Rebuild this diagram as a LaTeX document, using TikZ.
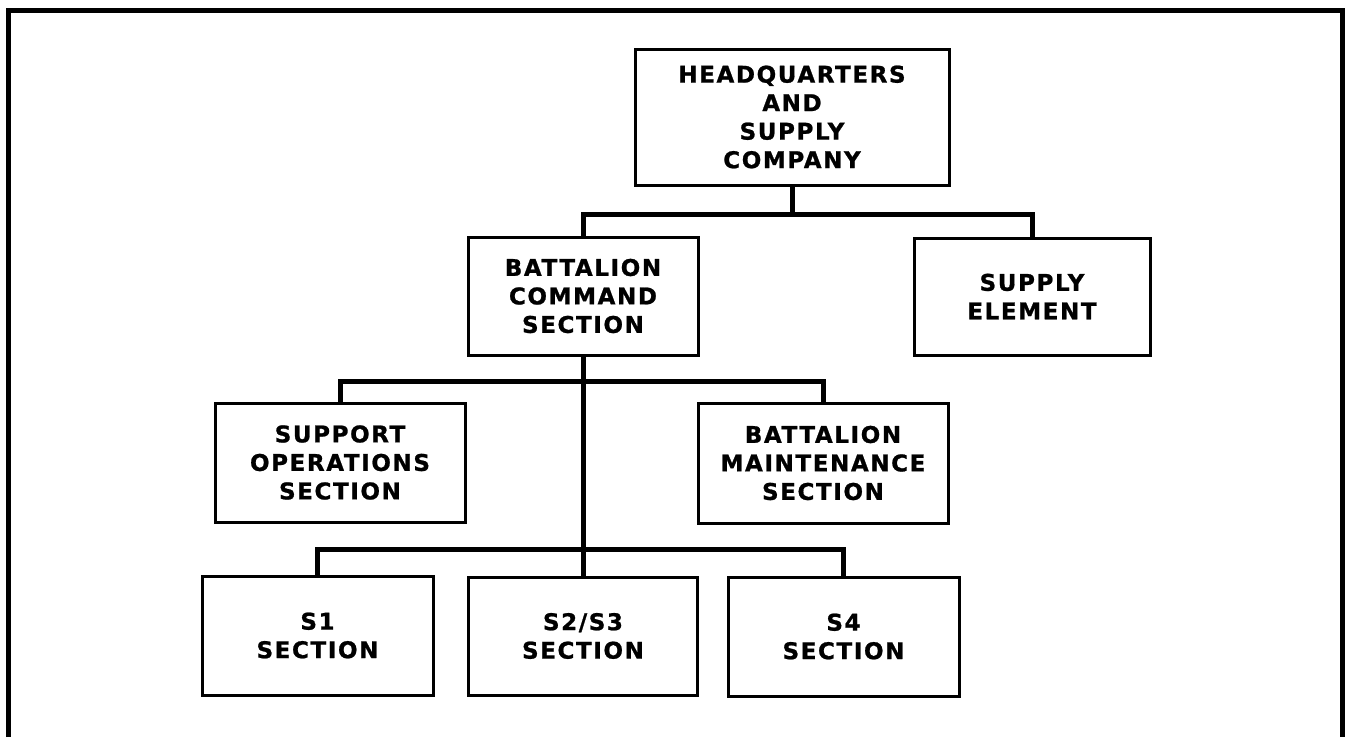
\documentclass[tikz,border=0pt]{standalone}
\usepackage{fontspec}
\newfontfamily\boxfont{DejaVu Sans}[LetterSpace=7, BoldFeatures={FakeBold=1}]
\begin{document}
\begin{tikzpicture}[x=1pt,y=-1pt,
  unit/.style={draw=black, line width=3pt, rectangle, inner sep=0pt, align=center,
    font=\boxfont\bfseries\fontsize{23}{28.5}\selectfont},
  conn/.style={draw=black, line width=5pt, line join=miter},
  frameline/.style={draw=black, line width=5pt, line join=miter}]
\useasboundingbox (0,0) rectangle (1345,737);
\fill[white] (0,0) rectangle (1345,737);
% frame
\draw[frameline] (8,737) -- (8,10.5) -- (1342.5,10.5) -- (1342.5,737);
% boxes
\node[unit, minimum width=314pt, minimum height=136pt] (hq) at (792,117) {HEADQUARTERS\\AND\\SUPPLY\\COMPANY};
\node[unit, minimum width=230pt, minimum height=118pt] (bcs) at (583,296) {BATTALION\\COMMAND\\SECTION};
\node[unit, minimum width=236pt, minimum height=117pt] (se) at (1032,296.5) {SUPPLY\\ELEMENT};
\node[unit, minimum width=250pt, minimum height=119pt] (sos) at (340,462.5) {SUPPORT\\OPERATIONS\\SECTION};
\node[unit, minimum width=250pt, minimum height=120pt] (bms) at (823,463) {BATTALION\\MAINTENANCE\\SECTION};
\node[unit, minimum width=231pt, minimum height=119pt] (s1) at (317.5,635.5) {S1\\SECTION};
\node[unit, minimum width=229pt, minimum height=118pt] (s23) at (583,636) {S2/S3\\SECTION};
\node[unit, minimum width=231pt, minimum height=119pt] (s4) at (843.5,636.5) {S4\\SECTION};
% bus coordinates
\coordinate (b1) at (792,214);
\coordinate (b2) at (583,381);
\coordinate (b3) at (583,549);
% connectors
\draw[conn] (hq.south) -- (b1);
\draw[conn] (bcs.north) |- (se.north |- b1) -- (se.north);
\draw[conn] (bcs.south) -- (b3);
\draw[conn] (sos.north) |- (bms.north |- b2) -- (bms.north);
\draw[conn] (s1.north) |- (s4.north |- b3) -- (s4.north);
\draw[conn] (b3) -- (s23.north);
\end{tikzpicture}
\end{document}
